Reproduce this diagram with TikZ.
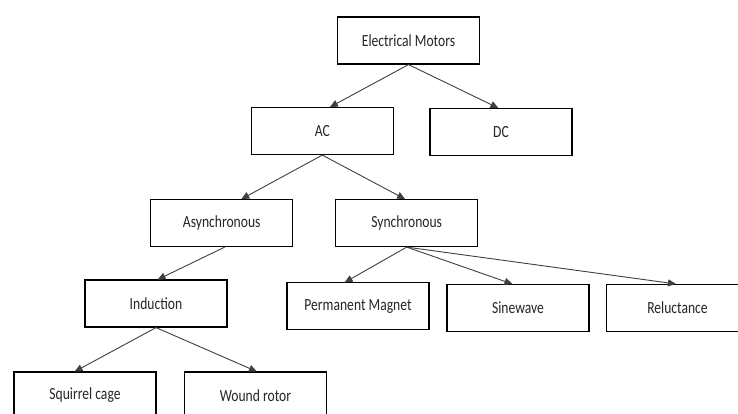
\documentclass[tikz,border=0pt]{standalone}
\usepackage{fontspec}
\setmainfont[FakeStretch=0.8]{Carlito}
\usetikzlibrary{arrows.meta}
\begin{document}
\begin{tikzpicture}[x=1pt,y=-1pt,
  box/.style={draw=black,line width=1.2pt,minimum width=142pt,minimum height=47pt,inner sep=0pt,font=\fontsize{17}{19}\selectfont,text=black!85},
  conn/.style={draw=black!75,line width=0.9pt,-{Triangle[length=8pt,width=7pt]},shorten >=-0.5pt}]
\useasboundingbox (0,0) rectangle (738,414);
\fill[white] (0,0) rectangle (738,414);
\node[box] (em) at (408.5,40.5) {Electrical Motors};
\node[box] (ac) at (322.3,131) {AC};
\node[box] (dc) at (501,132) {DC};
\node[box] (as) at (221.7,223) {Asynchronous};
\node[box] (sy) at (406.7,223) {Synchronous};
\node[box] (in) at (156,303.5) {Induction};
\node[box] (pm) at (358,306.3) {Permanent Magnet};
\node[box] (sw) at (518,308) {Sinewave};
\node[box] (re) at (677.5,308) {Reluctance};
\node[box] (sc) at (85,395.5) {Squirrel cage};
\node[box] (wr) at (255.5,395.5) {Wound rotor};
\draw[conn] (em.south) -- ([xshift=8pt]ac.north);
\draw[conn] (em.south) -- ([xshift=-3pt]dc.north);
\draw[conn] ([xshift=0pt]ac.south) -- ([xshift=20pt]as.north);
\draw[conn] ([xshift=0pt]ac.south) -- ([xshift=-2pt]sy.north);
\draw[conn] ([xshift=3pt]as.south) -- ([xshift=2pt]in.north);
\draw[conn] (sy.south) -- ([xshift=-13pt]pm.north);
\draw[conn] (sy.south) -- ([xshift=-6pt]sw.north);
\draw[conn] (sy.south) -- ([xshift=-2pt]re.north);
\draw[conn] (in.south) -- ([xshift=-10pt]sc.north);
\draw[conn] (in.south) -- ([xshift=1pt]wr.north);
\end{tikzpicture}
\end{document}
